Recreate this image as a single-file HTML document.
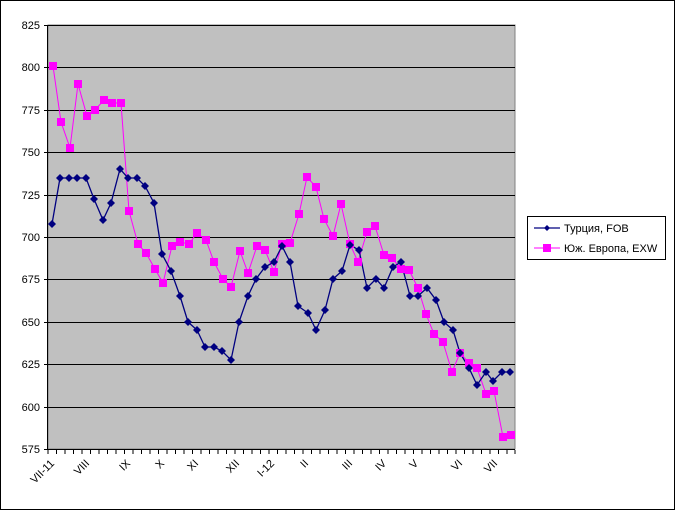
<!DOCTYPE html>
<html><head><meta charset="utf-8"><style>
html,body{margin:0;padding:0;background:#fff}
svg{display:block}
text{font-family:"Liberation Sans",Arial,sans-serif;font-size:11px;fill:#000}
</style></head><body>
<svg width="675" height="511" viewBox="0 0 675 511" xmlns="http://www.w3.org/2000/svg">
<rect x="0.5" y="0.5" width="674" height="509" fill="#fff" stroke="#000" stroke-width="1"/>
<rect x="48" y="25" width="467" height="424" fill="#c0c0c0" stroke="#808080" stroke-width="1"/>
<g stroke="#000" stroke-width="1">
<line x1="48" x2="515" y1="25.5" y2="25.5"/>
<line x1="48" x2="515" y1="67.5" y2="67.5"/>
<line x1="48" x2="515" y1="110.5" y2="110.5"/>
<line x1="48" x2="515" y1="152.5" y2="152.5"/>
<line x1="48" x2="515" y1="195.5" y2="195.5"/>
<line x1="48" x2="515" y1="237.5" y2="237.5"/>
<line x1="48" x2="515" y1="279.5" y2="279.5"/>
<line x1="48" x2="515" y1="322.5" y2="322.5"/>
<line x1="48" x2="515" y1="364.5" y2="364.5"/>
<line x1="48" x2="515" y1="407.5" y2="407.5"/>
<line x1="47.5" x2="47.5" y1="25" y2="450"/>
<line x1="47" x2="515" y1="449.5" y2="449.5"/>
</g>
<g stroke="#000" stroke-width="1" id="yt">
<line x1="44" x2="48" y1="25.5" y2="25.5"/><line x1="44" x2="48" y1="67.5" y2="67.5"/><line x1="44" x2="48" y1="110.5" y2="110.5"/><line x1="44" x2="48" y1="152.5" y2="152.5"/><line x1="44" x2="48" y1="195.5" y2="195.5"/><line x1="44" x2="48" y1="237.5" y2="237.5"/><line x1="44" x2="48" y1="279.5" y2="279.5"/><line x1="44" x2="48" y1="322.5" y2="322.5"/><line x1="44" x2="48" y1="364.5" y2="364.5"/><line x1="44" x2="48" y1="407.5" y2="407.5"/><line x1="44" x2="48" y1="449.5" y2="449.5"/>
</g>
<g text-anchor="end">
<text x="40" y="29">825</text><text x="40" y="71">800</text><text x="40" y="114">775</text><text x="40" y="156">750</text><text x="40" y="199">725</text><text x="40" y="241">700</text><text x="40" y="283">675</text><text x="40" y="326">650</text><text x="40" y="368">625</text><text x="40" y="411">600</text><text x="40" y="453">575</text>
</g>
<path id="xt" stroke="#000" stroke-width="1" d="M48,450v4M56.5,450v4M65,450v4M73.5,450v4M82,450v4M90.5,450v4M99,450v4M107.5,450v4M116,450v4M124.5,450v4M133,450v4M141.5,450v4M150,450v4M158.5,450v4M167,450v4M175.5,450v4M184,450v4M192.5,450v4M201,450v4M209.5,450v4M218,450v4M226.5,450v4M235,450v4M243.5,450v4M252,450v4M260.5,450v4M269,450v4M277.5,450v4M286,450v4M294.5,450v4M303,450v4M311.5,450v4M320,450v4M328.5,450v4M337,450v4M345.5,450v4M354,450v4M362.5,450v4M371,450v4M379.5,450v4M388,450v4M396.5,450v4M405,450v4M413.5,450v4M422,450v4M430.5,450v4M439,450v4M447.5,450v4M456,450v4M464.5,450v4M473,450v4M481.5,450v4M490,450v4M498.5,450v4M507,450v4M515,450v4"/>
<g text-anchor="end">
<text transform="translate(55,464) rotate(-45)">VII-11</text>
<text transform="translate(90,464) rotate(-45)">VIII</text>
<text transform="translate(131,464) rotate(-45)">IX</text>
<text transform="translate(165,464) rotate(-45)">X</text>
<text transform="translate(199,464) rotate(-45)">XI</text>
<text transform="translate(240,464) rotate(-45)">XII</text>
<text transform="translate(275,464) rotate(-45)">I-12</text>
<text transform="translate(309,464) rotate(-45)">II</text>
<text transform="translate(353,464) rotate(-45)">III</text>
<text transform="translate(387,464) rotate(-45)">IV</text>
<text transform="translate(419,464) rotate(-45)">V</text>
<text transform="translate(463,464) rotate(-45)">VI</text>
<text transform="translate(498,464) rotate(-45)">VII</text>
</g>
<polyline fill="none" stroke="#ff00ff" stroke-width="1" points="53,66 61,122 70,148 78,84 87,116 95,110 104,100 112,103 121,103 129,211 138,244 146,253 155,269 163,283 172,246 180,242 189,244 197,233 206,240 214,262 223,279 231,287 240,251 248,273 257,246 265,250 274,272 282,244 290,243 299,214 307,177 316,187 324,219 333,236 341,204 350,244 358,262 367,232 375,226 384,255 392,258 401,269 409,270 418,288 426,314 434,334 443,342 452,372 460,353 469,363 477,368 486,394 494,391 503,437 511,435"/>
<g fill="#ff00ff" id="sq">
<script type="text/plain"></script>
</g>
<polyline fill="none" stroke="#000080" stroke-width="1.3" points="52,224 60,178 69,178 77,178 86,178 94,199 103,220 111,203 120,169 128,178 137,178 145,186 154,203 162,254 171,271 180,296 188,322 197,330 205,347 214,347 222,351 231,360 239,322 248,296 256,279 265,267 274,262 282,246 290,262 298,306 308,313 316,330 325,310 333,279 342,271 350,245 359,250 367,288 376,279 384,288 393,267 401,262 410,296 418,296 427,288 436,300 444,322 453,330 460,353 469,368 477,385 486,372 493,381 502,372 510,372"/>
<g fill="#ff00ff">
<rect x="49" y="62" width="8" height="8"/><rect x="57" y="118" width="8" height="8"/><rect x="66" y="144" width="8" height="8"/><rect x="74" y="80" width="8" height="8"/><rect x="83" y="112" width="8" height="8"/><rect x="91" y="106" width="8" height="8"/><rect x="100" y="96" width="8" height="8"/><rect x="108" y="99" width="8" height="8"/><rect x="117" y="99" width="8" height="8"/><rect x="125" y="207" width="8" height="8"/><rect x="134" y="240" width="8" height="8"/><rect x="142" y="249" width="8" height="8"/><rect x="151" y="265" width="8" height="8"/><rect x="159" y="279" width="8" height="8"/><rect x="168" y="242" width="8" height="8"/><rect x="176" y="238" width="8" height="8"/><rect x="185" y="240" width="8" height="8"/><rect x="193" y="229" width="8" height="8"/><rect x="202" y="236" width="8" height="8"/><rect x="210" y="258" width="8" height="8"/><rect x="219" y="275" width="8" height="8"/><rect x="227" y="283" width="8" height="8"/><rect x="236" y="247" width="8" height="8"/><rect x="244" y="269" width="8" height="8"/><rect x="253" y="242" width="8" height="8"/><rect x="261" y="246" width="8" height="8"/><rect x="270" y="268" width="8" height="8"/><rect x="278" y="240" width="8" height="8"/><rect x="286" y="239" width="8" height="8"/><rect x="295" y="210" width="8" height="8"/><rect x="303" y="173" width="8" height="8"/><rect x="312" y="183" width="8" height="8"/><rect x="320" y="215" width="8" height="8"/><rect x="329" y="232" width="8" height="8"/><rect x="337" y="200" width="8" height="8"/><rect x="346" y="240" width="8" height="8"/><rect x="354" y="258" width="8" height="8"/><rect x="363" y="228" width="8" height="8"/><rect x="371" y="222" width="8" height="8"/><rect x="380" y="251" width="8" height="8"/><rect x="388" y="254" width="8" height="8"/><rect x="397" y="265" width="8" height="8"/><rect x="405" y="266" width="8" height="8"/><rect x="414" y="284" width="8" height="8"/><rect x="422" y="310" width="8" height="8"/><rect x="430" y="330" width="8" height="8"/><rect x="439" y="338" width="8" height="8"/><rect x="448" y="368" width="8" height="8"/><rect x="456" y="349" width="8" height="8"/><rect x="465" y="359" width="8" height="8"/><rect x="473" y="364" width="8" height="8"/><rect x="482" y="390" width="8" height="8"/><rect x="490" y="387" width="8" height="8"/><rect x="499" y="433" width="8" height="8"/><rect x="507" y="431" width="8" height="8"/>
</g>
<g fill="#000080">
<path d="M52,220l4,4l-4,4l-4,-4z M60,174l4,4l-4,4l-4,-4z M69,174l4,4l-4,4l-4,-4z M77,174l4,4l-4,4l-4,-4z M86,174l4,4l-4,4l-4,-4z M94,195l4,4l-4,4l-4,-4z M103,216l4,4l-4,4l-4,-4z M111,199l4,4l-4,4l-4,-4z M120,165l4,4l-4,4l-4,-4z M128,174l4,4l-4,4l-4,-4z M137,174l4,4l-4,4l-4,-4z M145,182l4,4l-4,4l-4,-4z M154,199l4,4l-4,4l-4,-4z M162,250l4,4l-4,4l-4,-4z M171,267l4,4l-4,4l-4,-4z M180,292l4,4l-4,4l-4,-4z M188,318l4,4l-4,4l-4,-4z M197,326l4,4l-4,4l-4,-4z M205,343l4,4l-4,4l-4,-4z M214,343l4,4l-4,4l-4,-4z M222,347l4,4l-4,4l-4,-4z M231,356l4,4l-4,4l-4,-4z M239,318l4,4l-4,4l-4,-4z M248,292l4,4l-4,4l-4,-4z M256,275l4,4l-4,4l-4,-4z M265,263l4,4l-4,4l-4,-4z M274,258l4,4l-4,4l-4,-4z M282,242l4,4l-4,4l-4,-4z M290,258l4,4l-4,4l-4,-4z M298,302l4,4l-4,4l-4,-4z M308,309l4,4l-4,4l-4,-4z M316,326l4,4l-4,4l-4,-4z M325,306l4,4l-4,4l-4,-4z M333,275l4,4l-4,4l-4,-4z M342,267l4,4l-4,4l-4,-4z M350,241l4,4l-4,4l-4,-4z M359,246l4,4l-4,4l-4,-4z M367,284l4,4l-4,4l-4,-4z M376,275l4,4l-4,4l-4,-4z M384,284l4,4l-4,4l-4,-4z M393,263l4,4l-4,4l-4,-4z M401,258l4,4l-4,4l-4,-4z M410,292l4,4l-4,4l-4,-4z M418,292l4,4l-4,4l-4,-4z M427,284l4,4l-4,4l-4,-4z M436,296l4,4l-4,4l-4,-4z M444,318l4,4l-4,4l-4,-4z M453,326l4,4l-4,4l-4,-4z M460,349l4,4l-4,4l-4,-4z M469,364l4,4l-4,4l-4,-4z M477,381l4,4l-4,4l-4,-4z M486,368l4,4l-4,4l-4,-4z M493,377l4,4l-4,4l-4,-4z M502,368l4,4l-4,4l-4,-4z M510,368l4,4l-4,4l-4,-4z"/>
</g>
<rect x="527.5" y="216.5" width="138" height="43" fill="#fff" stroke="#000" stroke-width="1"/>
<line x1="534" x2="560" y1="228" y2="228" stroke="#000080" stroke-width="1.3"/>
<path d="M547,225l3,3l-3,3l-3,-3z" fill="#000080"/>
<text x="564" y="232">Турция, FOB</text>
<line x1="534" x2="560" y1="248" y2="248" stroke="#ff00ff" stroke-width="1"/>
<rect x="543" y="244" width="8" height="8" fill="#ff00ff"/>
<text x="564" y="252">Юж. Европа, EXW</text>
</svg>
</body></html>
